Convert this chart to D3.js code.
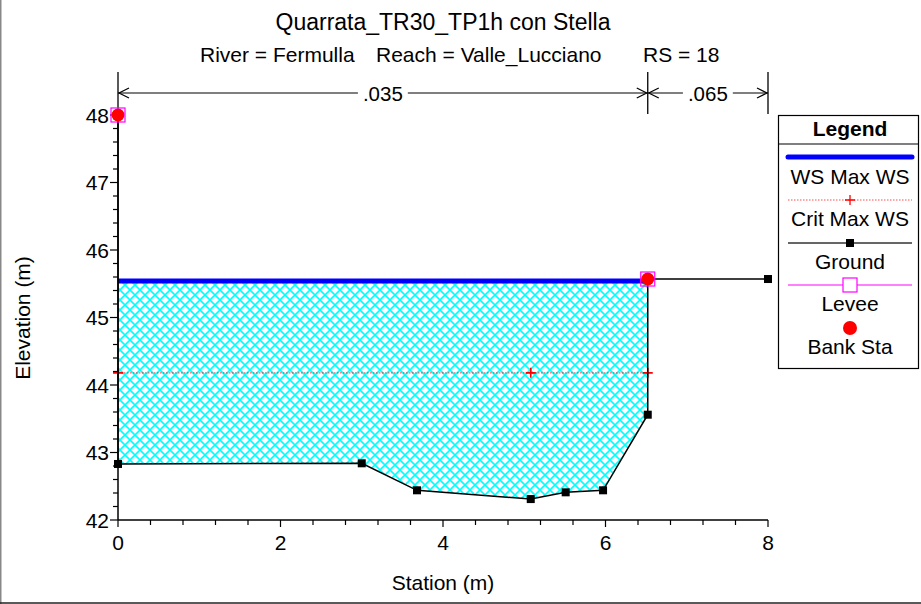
<!DOCTYPE html>
<html><head><meta charset="utf-8">
<script src="https://cdn.jsdelivr.net/npm/d3@7"></script>
<style>
html,body{margin:0;padding:0;background:#fff;}
svg{display:block;font-family:"Liberation Sans",Arial,Helvetica,sans-serif;}
</style></head>
<body>
<script>
// ---- data ----
const titleText = "Quarrata_TR30_TP1h con Stella";
const subRiver = "River = Fermulla";
const subReach = "Reach = Valle_Lucciano";
const subRS = "RS = 18";
const groundStations = [0, 0, 3.0, 3.68, 5.08, 5.51, 5.97, 6.52, 6.52, 8.0];
const groundElevs    = [48.0, 42.83, 42.84, 42.44, 42.31, 42.41, 42.44, 43.56, 45.57, 45.57];
const wsElev = 45.54;
const critElev = 44.18;
const critMarkerStations = [0, 5.08, 6.52];
const bankStations = [0, 6.52];
const bankElevs = [48.0, 45.57];
const leveeStations = [0, 6.52];
const leveeElevs = [48.0, 45.57];
const nBreaks = [0, 6.52, 8.0];
const nLabels = [".035", ".065"];
const xTickValues = [0, 2, 4, 6, 8];
const yTickValues = [42, 43, 44, 45, 46, 47, 48];
const legendItems = ["WS Max WS", "Crit Max WS", "Ground", "Levee", "Bank Sta"];

const W = 921, H = 604;
const FS = 21;
const svg = d3.select("body").append("svg").attr("width", W).attr("height", H);

const x = d3.scaleLinear().domain([0, 8]).range([118, 768]);
const y = d3.scaleLinear().domain([42, 48]).range([520, 115]);

// borders
svg.append("line").attr("x1",0.75).attr("x2",0.75).attr("y1",0).attr("y2",H).attr("stroke","#888").attr("stroke-width",1.5);
svg.append("line").attr("x1",0).attr("x2",W).attr("y1",603).attr("y2",603).attr("stroke","#222").attr("stroke-width",1.5);

// titles
svg.append("text").attr("x",443).attr("y",30).attr("text-anchor","middle").attr("font-size",23).text(titleText);
svg.append("text").attr("x",200).attr("y",62).attr("font-size",FS).text(subRiver);
svg.append("text").attr("x",376).attr("y",62).attr("font-size",FS).text(subReach);
svg.append("text").attr("x",643).attr("y",62).attr("font-size",FS).text(subRS);

// hatch pattern
const defs = svg.append("defs");
const pat = defs.append("pattern").attr("id","hatch").attr("patternUnits","userSpaceOnUse")
  .attr("width",10).attr("height",10);
pat.append("path").attr("d","M-1,-1L11,11M-1,11L11,-1")
  .attr("stroke","#00ffff").attr("stroke-width",1.6).attr("fill","none");

// water fill (between WS and ground within bank stations)
const ground = groundStations.map((s,i)=>({s, e: groundElevs[i]}));
const wet = ground.filter(d => d.s >= bankStations[0] && d.s <= bankStations[1])
  .map(d => ({s: d.s, e: Math.min(d.e, wsElev)}));
svg.append("path")
  .attr("d", d3.line().x(d=>x(d.s)).y(d=>y(d.e))(wet) + "Z")
  .attr("fill","url(#hatch)").attr("stroke","none");

// crit line
const critG = svg.append("g");
critG.append("line").attr("x1",x(critMarkerStations[0])).attr("x2",x(critMarkerStations[critMarkerStations.length-1]))
  .attr("y1",y(critElev)).attr("y2",y(critElev))
  .attr("stroke","#ff0000").attr("stroke-width",1.2).attr("stroke-dasharray","1.5,1.5").attr("opacity",0.6);
critMarkerStations.forEach(s=>{
  critG.append("path").attr("d",`M${x(s)-5},${y(critElev)}h10M${x(s)},${y(critElev)-5}v10`)
    .attr("stroke","#ff0000").attr("stroke-width",1.6);
});

// WS line
svg.append("line").attr("x1",x(bankStations[0])).attr("x2",x(bankStations[1]))
  .attr("y1",y(wsElev)).attr("y2",y(wsElev)).attr("stroke","#0000ff").attr("stroke-width",5);

// ground line
svg.append("path").attr("d", d3.line().x(d=>x(d.s)).y(d=>y(d.e))(ground))
  .attr("fill","none").attr("stroke","#000").attr("stroke-width",1.5);
svg.selectAll(".gpt").data(ground).enter().append("rect")
  .attr("x",d=>x(d.s)-4).attr("y",d=>y(d.e)-4).attr("width",8).attr("height",8).attr("fill","#000");

// axes
const xAxisMinor = d3.range(0, 8.0001, 0.4);
const ax = svg.append("g");
ax.append("line").attr("x1",x(0)).attr("x2",x(8)).attr("y1",y(42)).attr("y2",y(42)).attr("stroke","#000").attr("stroke-width",1.5);
ax.append("line").attr("x1",x(0)).attr("x2",x(0)).attr("y1",y(42)).attr("y2",y(48)).attr("stroke","#000").attr("stroke-width",1.5);
xAxisMinor.forEach(v=>{
  const major = Math.abs(v - Math.round(v/2)*2) < 1e-6;
  ax.append("line").attr("x1",x(v)).attr("x2",x(v)).attr("y1",y(42)).attr("y2",y(42)+(major?7:5)).attr("stroke","#000").attr("stroke-width",1.2);
});
xTickValues.forEach(v=>{
  ax.append("text").attr("x",x(v)).attr("y",550).attr("text-anchor","middle").attr("font-size",FS).text(v);
});
const yMinor = d3.range(42, 48.0001, 0.2);
yMinor.forEach(v=>{
  const major = Math.abs(v - Math.round(v)) < 1e-6;
  ax.append("line").attr("x1",x(0)-(major?8:5)).attr("x2",x(0)).attr("y1",y(v)).attr("y2",y(v)).attr("stroke","#000").attr("stroke-width",1.2);
});
yTickValues.forEach(v=>{
  ax.append("text").attr("x",109).attr("y",y(v)+7.5).attr("text-anchor","end").attr("font-size",FS).text(v);
});
svg.append("text").attr("x",443).attr("y",590).attr("text-anchor","middle").attr("font-size",FS).text("Station (m)");
svg.append("text").attr("transform","translate(30,318) rotate(-90)").attr("text-anchor","middle").attr("font-size",FS).text("Elevation (m)");

// Manning's n bar
const nG = svg.append("g");
const ny = 93;
nBreaks.forEach(s=>{
  nG.append("line").attr("x1",x(s)).attr("x2",x(s)).attr("y1",72).attr("y2",114).attr("stroke","#000").attr("stroke-width",1.3);
});
nLabels.forEach((lab,i)=>{
  const x0 = x(nBreaks[i]), x1 = x(nBreaks[i+1]);
  const cx = (x0+x1)/2;
  const t = nG.append("text").attr("x",cx).attr("y",ny+7.5).attr("text-anchor","middle").attr("font-size",20.5).text(lab);
  const tw = t.node().getComputedTextLength();
  nG.append("line").attr("x1",x0).attr("x2",cx-tw/2-5).attr("y1",ny).attr("y2",ny).attr("stroke","#000").attr("stroke-width",1.2);
  nG.append("line").attr("x1",cx+tw/2+5).attr("x2",x1).attr("y1",ny).attr("y2",ny).attr("stroke","#000").attr("stroke-width",1.2);
  nG.append("path").attr("d",`M${x0+11},${ny-5}L${x0+1},${ny}L${x0+11},${ny+5}`).attr("fill","none").attr("stroke","#000").attr("stroke-width",1.2);
  nG.append("path").attr("d",`M${x1-11},${ny-5}L${x1-1},${ny}L${x1-11},${ny+5}`).attr("fill","none").attr("stroke","#000").attr("stroke-width",1.2);
});

// levee and bank station markers
leveeStations.forEach((s,i)=>{
  svg.append("circle").attr("cx",x(bankStations[i])).attr("cy",y(bankElevs[i])).attr("r",6.5).attr("fill","#ff0000");
  svg.append("rect").attr("x",x(s)-7).attr("y",y(leveeElevs[i])-7).attr("width",14).attr("height",14)
    .attr("fill","none").attr("stroke","#ff00ff").attr("stroke-width",1.2);
});

// legend
const lg = svg.append("g");
lg.append("rect").attr("x",778.5).attr("y",115.5).attr("width",140).attr("height",253).attr("fill","#fff").attr("stroke","#000").attr("stroke-width",1.2);
lg.append("line").attr("x1",778.5).attr("x2",918.5).attr("y1",144).attr("y2",144).attr("stroke","#000").attr("stroke-width",1.2);
lg.append("text").attr("x",850).attr("y",136).attr("text-anchor","middle").attr("font-size",FS).attr("font-weight","bold").text("Legend");
const lx0 = 788, lx1 = 912, lcx = 850;
const symY = [157, 200, 243, 285, 328];
const txtY = [184, 226, 269, 311, 354];
// WS
lg.append("line").attr("x1",lx0).attr("x2",lx1).attr("y1",symY[0]).attr("y2",symY[0]).attr("stroke","#0000ff").attr("stroke-width",5).attr("stroke-linecap","round");
// Crit
lg.append("line").attr("x1",lx0).attr("x2",lx1).attr("y1",symY[1]).attr("y2",symY[1]).attr("stroke","#ff0000").attr("stroke-width",1).attr("stroke-dasharray","1.5,1.5").attr("opacity",0.7);
lg.append("path").attr("d",`M${lcx-5},${symY[1]}h10M${lcx},${symY[1]-5}v10`).attr("stroke","#ff0000").attr("stroke-width",1.3);
// Ground
lg.append("line").attr("x1",lx0).attr("x2",lx1).attr("y1",symY[2]).attr("y2",symY[2]).attr("stroke","#333").attr("stroke-width",1.3);
lg.append("rect").attr("x",lcx-4).attr("y",symY[2]-4).attr("width",8).attr("height",8).attr("fill","#000");
// Levee
lg.append("line").attr("x1",lx0).attr("x2",lx1).attr("y1",symY[3]).attr("y2",symY[3]).attr("stroke","#ff00ff").attr("stroke-width",1.2);
lg.append("rect").attr("x",lcx-7).attr("y",symY[3]-7).attr("width",14).attr("height",14).attr("fill","#fff").attr("stroke","#ff00ff").attr("stroke-width",1.2);
// Bank
lg.append("circle").attr("cx",lcx).attr("cy",symY[4]).attr("r",7).attr("fill","#ff0000");
legendItems.forEach((t,i)=>{
  lg.append("text").attr("x",lcx).attr("y",txtY[i]).attr("text-anchor","middle").attr("font-size",FS).text(t);
});
</script>
</body></html>
